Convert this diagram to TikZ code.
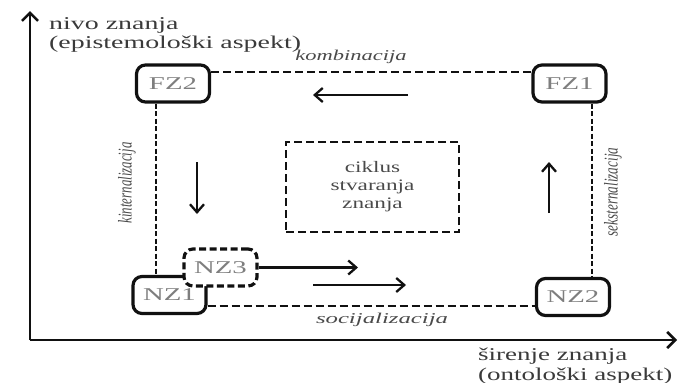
\documentclass[tikz,border=0pt]{standalone}
\usepackage{fontspec}
\setmainfont{Liberation Serif}
\usepackage{graphicx}
\usepackage{xcolor}
\usetikzlibrary{
    arrows.meta,
    positioning
}

\definecolor{inkgray}{HTML}{111111}
\definecolor{axisgray}{HTML}{3A3A3A}
\definecolor{phasegray}{HTML}{4A4A4A}
\definecolor{boxgray}{HTML}{7E7E7E}

\newcommand{\hstretch}[2][1.55]{\scalebox{#1}[1]{#2}}

\tikzset{
    knowbox/.style={draw=inkgray, line width=3.2pt, rounded corners=9pt, fill=white,
        minimum width=73pt, minimum height=37pt, inner sep=0pt, text=boxgray,
        font=\fontsize{18}{20}\selectfont},
    tacitbox/.style={knowbox, dash pattern=on 7pt off 3.5pt},
    hring/.style={draw=inkgray, line width=1.7pt, dash pattern=on 8pt off 4pt},
    vring/.style={draw=inkgray, line width=2.4pt, dash pattern=on 5pt off 2.5pt},
    flow/.style={draw=inkgray, line width=2.3pt, -{Straight Barb[length=8pt,width=14pt,line width=2.3pt]}},
    axisline/.style={draw=inkgray, line width=2.9pt, -{Straight Barb[length=8pt,width=16pt,line width=2.6pt]}},
    axislabel/.style={inner sep=0pt, anchor=north west, text=axisgray, font=\fontsize{18}{20}\selectfont},
    phase/.style={inner sep=0pt, text=phasegray, font=\itshape\fontsize{15}{17}\selectfont},
    cyclebox/.style={draw=inkgray, line width=2.1pt, dash pattern=on 8pt off 4pt,
        minimum width=173pt, minimum height=90pt, inner sep=0pt, text=phasegray,
        font=\fontsize{16}{18}\selectfont}
}

\begin{document}
\begin{tikzpicture}[x=1pt, y=-1pt]
    \useasboundingbox (0,0) rectangle (678,383);

    \coordinate (origin) at (30,340);
    \coordinate (ytop) at (30,11);
    \coordinate (xend) at (677,340);
    \draw[axisline] (origin) -- (ytop);
    \draw[axisline] (origin) -- (xend);
    \node[axislabel] (ylabel) at (49,17) {\hstretch{\shortstack[l]{nivo znanja\\(epistemološki aspekt)}}};
    \node[axislabel] (xlabel) at (478,348) {\hstretch[1.5]{\shortstack[l]{širenje znanja\\(ontološki aspekt)}}};

    \node[knowbox] (fz2) at (173,83.5) {\hstretch[1.6]{FZ2}};
    \node[knowbox] (fz1) at (569.5,83.5) {\hstretch[1.6]{FZ1}};
    \node[knowbox] (nz1) at (169.5,295) {\hstretch[1.6]{NZ1}};
    \node[knowbox] (nz2) at (573,297) {\hstretch[1.6]{NZ2}};
    \node[tacitbox] (nz3) at (220.5,267.5) {\hstretch[1.6]{NZ3}};

    \coordinate (ringtl) at (156,72);
    \coordinate (ringbr) at (592,306);
    \draw[hring] (fz2.east |- ringtl) -- (fz1.west |- ringtl);
    \draw[hring] (nz1.east |- ringbr) -- (nz2.west |- ringbr);
    \draw[vring] (ringtl |- fz2.south) -- (ringtl |- nz1.north);
    \draw[vring] (ringbr |- fz1.south) -- (ringbr |- nz2.north);

    \node[phase, anchor=base] (comb) at (351,60) {\hstretch[1.5]{kombinacija}};
    \node[phase, anchor=base] (soc) at (382,323) {\hstretch[1.65]{socijalizacija}};
    \node[phase, rotate=90] (kint) at (127,183) {\scalebox{0.86}[1.3]{kinternalizacija}};
    \node[phase, rotate=90] (seks) at (613,192) {\scalebox{0.88}[1.3]{seksternalizacija}};

    \node[cyclebox] (ciklus) at (372.5,187) {\hstretch[1.45]{\begin{tabular}{@{}c@{}}ciklus\\stvaranja\\znanja\end{tabular}}};

    \coordinate (combtail) at (408,95);
    \coordinate (combhead) at (313,95);
    \coordinate (inttail) at (197,162);
    \coordinate (inthead) at (197,214);
    \coordinate (exttail) at (549,213);
    \coordinate (exthead) at (549,162);
    \coordinate (tacithead) at (358,267.5);
    \coordinate (soctail) at (313,285);
    \coordinate (sochead) at (406,285);
    \draw[flow] (combtail) -- (combhead);
    \draw[flow] (inttail) -- (inthead);
    \draw[flow] (exttail) -- (exthead);
    \draw[flow] (nz3.east) -- (tacithead);
    \draw[flow] (soctail) -- (sochead);
\end{tikzpicture}
\end{document}
